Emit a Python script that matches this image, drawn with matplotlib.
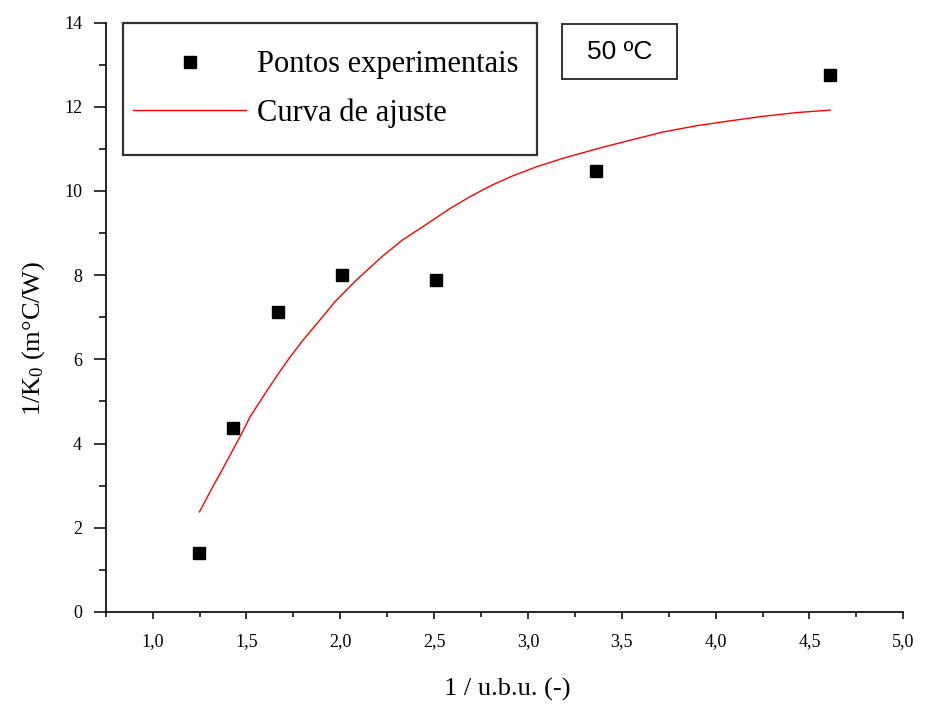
import numpy as np, matplotlib
matplotlib.use("Agg")
import matplotlib.pyplot as plt
from matplotlib.patches import Rectangle
from matplotlib.ticker import MultipleLocator, FixedLocator, FixedFormatter

plt.rcParams['font.family'] = ['Liberation Serif', 'DejaVu Serif']
plt.rcParams['mathtext.fontset'] = 'custom'
plt.rcParams['mathtext.rm'] = 'Liberation Serif'
plt.rcParams['mathtext.it'] = 'Liberation Serif:italic'

# experimental points
x_pts = [1.245, 1.43, 1.67, 2.01, 2.51, 3.36, 4.61]
y_pts = [1.40, 4.37, 7.12, 8.00, 7.89, 10.48, 12.76]
# fitted curve
x_fit = [1.25, 1.32, 1.37, 1.47, 1.52, 1.61, 1.67, 1.73, 1.80, 1.90, 1.97, 2.08,
         2.22, 2.33, 2.47, 2.58, 2.69, 2.80, 2.92, 3.05, 3.19, 3.40, 3.55, 3.72,
         3.90, 4.07, 4.25, 4.43, 4.61]
y_fit = [2.38, 2.97, 3.37, 4.20, 4.64, 5.26, 5.66, 6.04, 6.45, 6.98, 7.36, 7.86,
         8.43, 8.83, 9.24, 9.57, 9.86, 10.12, 10.36, 10.58, 10.78, 11.04, 11.21, 11.40,
         11.55, 11.66, 11.77, 11.86, 11.92]
x_ticks = [1.0, 1.5, 2.0, 2.5, 3.0, 3.5, 4.0, 4.5, 5.0]
x_labels = ["1,0", "1,5", "2,0", "2,5", "3,0", "3,5", "4,0", "4,5", "5,0"]
y_ticks = [0, 2, 4, 6, 8, 10, 12, 14]

W, H = 935, 706
fig = plt.figure(figsize=(W/100, H/100), dpi=100)
ax = fig.add_axes([105.7/W, 1-612/H, (903.3-105.7)/W, (612-22.5)/H])

pts, = ax.plot(x_pts, y_pts, 's', color='black', ms=8.5, lw=0, label='Pontos experimentais')
fit, = ax.plot(x_fit, y_fit, '-', color='red', lw=1.0, label='Curva de ajuste')

ax.set_xlim(0.75, 5.0); ax.set_ylim(0, 14)
for s in ['top', 'right']: ax.spines[s].set_visible(False)
for s in ['left', 'bottom']: ax.spines[s].set_linewidth(1.2)
ax.xaxis.set_major_locator(FixedLocator(x_ticks))
ax.xaxis.set_major_formatter(FixedFormatter(x_labels))
ax.xaxis.set_minor_locator(MultipleLocator(0.25))
ax.yaxis.set_major_locator(FixedLocator(y_ticks))
ax.yaxis.set_minor_locator(MultipleLocator(1))
ax.tick_params(axis='x', which='major', direction='out', length=5, width=1.1, pad=10, labelsize=13)
ax.tick_params(axis='x', which='minor', direction='out', length=3.5, width=1.1)
ax.tick_params(axis='y', which='major', direction='out', length=9, width=1.1, pad=8, labelsize=13)
ax.tick_params(axis='y', which='minor', direction='out', length=5, width=1.1)

ax.set_xlabel("1 / u.b.u. (-)", fontsize=19)
ax.xaxis.set_label_coords(0.503, -0.112)
ax.set_ylabel(r"1/K$_\mathrm{0}$ (m°C/W)", fontsize=19)
ax.yaxis.set_label_coords(-0.074, 0.464)

# legend (frame drawn separately)
leg = ax.legend(handles=[pts, fit], loc='center left', frameon=False, fontsize=22,
                handlelength=3.7, handletextpad=0.36, labelspacing=0.62,
                bbox_to_anchor=(133/W, 1-89/H), bbox_transform=fig.transFigure,
                borderpad=0, borderaxespad=0)
fig.patches.append(Rectangle((122.7/W, 1-155/H), (536.7-122.7)/W, (155-23.3)/H,
                             transform=fig.transFigure, fill=False, ec='#333333', lw=1.6))

# temperature box
fig.patches.append(Rectangle((561.7/W, 1-79.3/H), (676.7-561.7)/W, (79.3-24)/H,
                             transform=fig.transFigure, fill=False, ec='#222222', lw=1.3))
fig.text(619.2/W, 1-52/H, "50 ºC", family='Liberation Sans', fontsize=19, ha='center', va='center')

fig.savefig("out.png", dpi=100)
